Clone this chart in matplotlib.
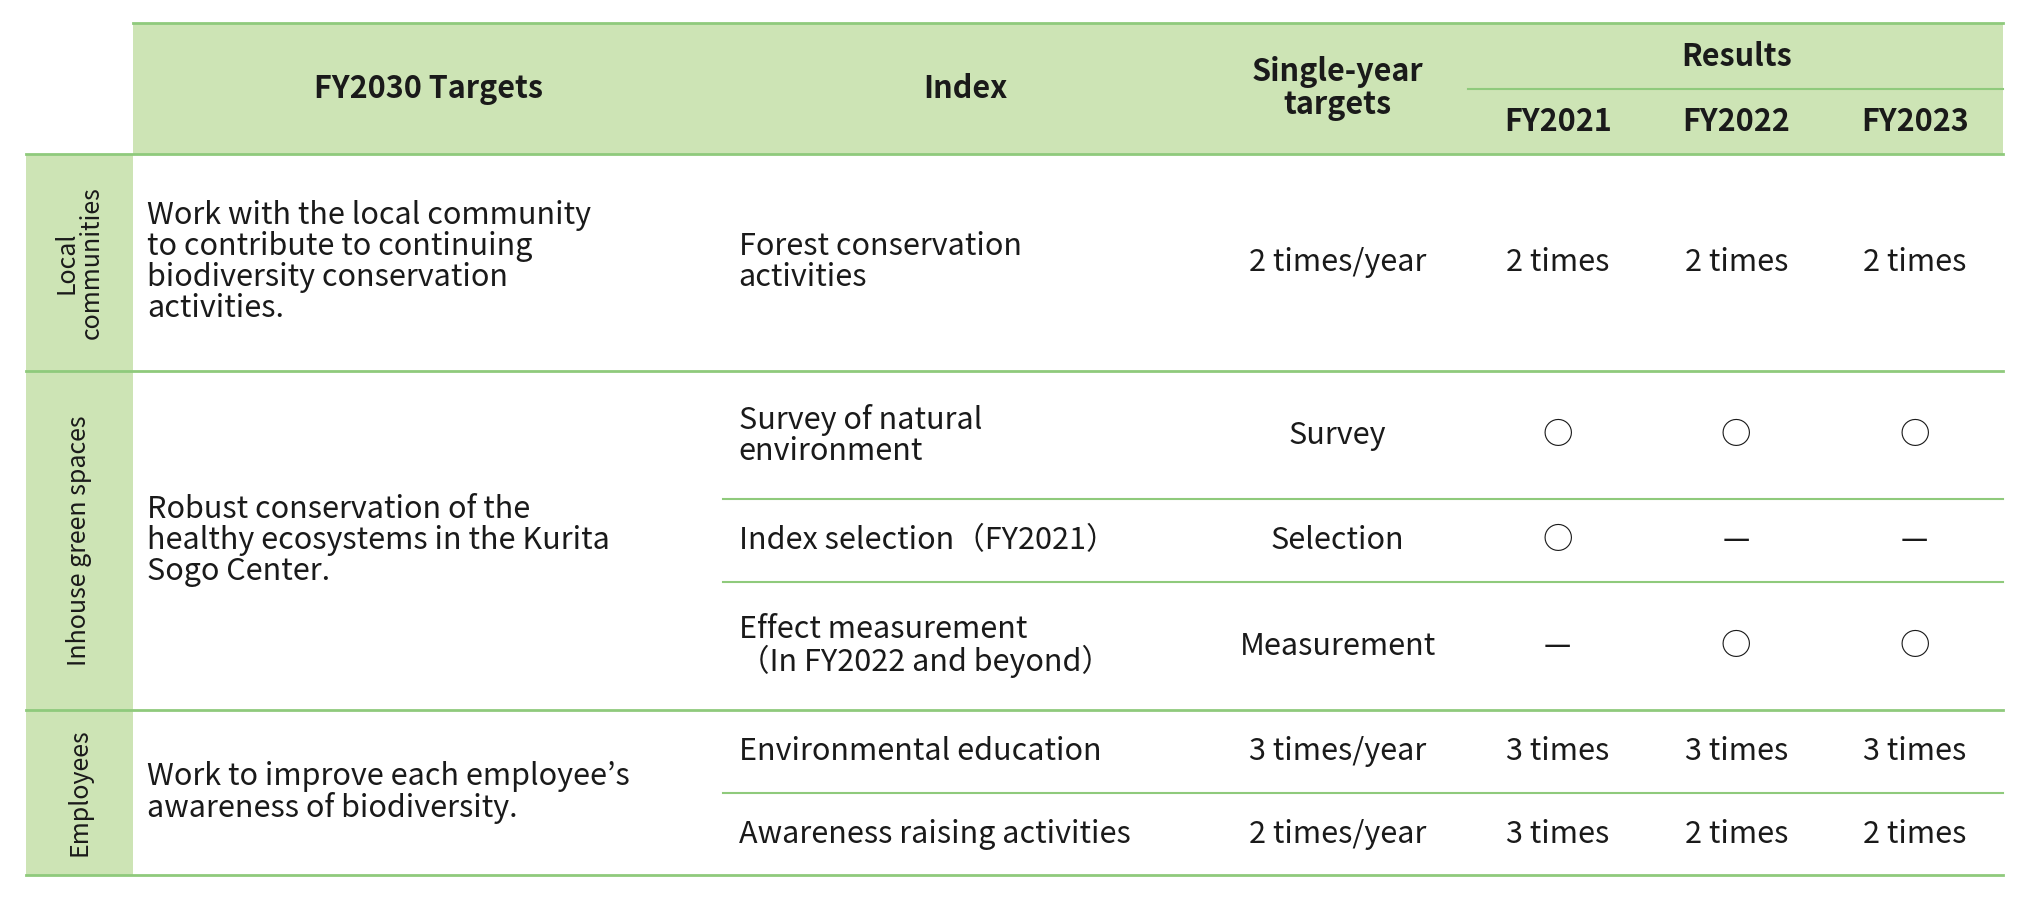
import matplotlib.pyplot as plt
from matplotlib.patches import Rectangle

plt.rcParams["font.family"] = ["Noto Sans CJK JP", "DejaVu Sans"]

# table content
groups = ["Local\ncommunities", "Inhouse green spaces", "Employees"]
targets = [
    "Work with the local community\nto contribute to continuing\nbiodiversity conservation\nactivities.",
    "Robust conservation of the\nhealthy ecosystems in the Kurita\nSogo Center.",
    "Work to improve each employee’s\nawareness of biodiversity.",
]
indexes = [
    "Forest conservation\nactivities",
    "Survey of natural\nenvironment",
    "Index selection（FY2021）",
    "Effect measurement\n（In FY2022 and beyond）",
    "Environmental education",
    "Awareness raising activities",
]
single_year = ["2 times/year", "Survey", "Selection", "Measurement", "3 times/year", "2 times/year"]
years = ["FY2021", "FY2022", "FY2023"]
results = [
    ["2 times", "2 times", "2 times"],
    ["○", "○", "○"],
    ["○", "—", "—"],
    ["—", "○", "○"],
    ["3 times", "3 times", "3 times"],
    ["3 times", "2 times", "2 times"],
]

# layout (in reference pixel units, 1557 x 691)
W, H = 1557, 691
group_bounds = [(118, 285), (285, 545), (545, 672)]
row_bounds = [(118, 285), (285, 383), (383, 447), (447, 545), (545, 609), (609, 672)]
year_x = [1196, 1333, 1470]

GREEN_FILL = "#cde4b5"
GREEN_LINE = "#8fca7c"
TXT = "#1a1a1a"
FS = 22

fig = plt.figure(figsize=(20.28, 9.0), dpi=100)
ax = fig.add_axes([0, 0, 1, 1])
ax.set_xlim(0, W)
ax.set_ylim(H, 0)
ax.axis("off")

# fills
ax.add_patch(Rectangle((102, 18), 1436, 100, color=GREEN_FILL, lw=0))
ax.add_patch(Rectangle((20, 118), 82, 554, color=GREEN_FILL, lw=0))

# lines
ax.plot([102, 1538], [18, 18], color=GREEN_LINE, lw=2)
ax.plot([1127, 1538], [68, 68], color=GREEN_LINE, lw=1.5)
for y in [118, 285, 545, 672]:
    ax.plot([20, 1538], [y, y], color=GREEN_LINE, lw=2)
for top, bot in row_bounds:
    if top not in (118, 285, 545):
        ax.plot([555, 1538], [top, top], color=GREEN_LINE, lw=1.5)

# header
hdr = dict(fontsize=FS, fontweight="bold", color=TXT, ha="center", va="center")
ax.text(329, 68, "FY2030 Targets", **hdr)
ax.text(741, 68, "Index", **hdr)
ax.text(1027, 68, "Single-year\ntargets", linespacing=1.05, **hdr)
ax.text(1333, 44, "Results", **hdr)
for x, yr in zip(year_x, years):
    ax.text(x, 94, yr, **hdr)

# group column and targets
for (top, bot), g, t in zip(group_bounds, groups, targets):
    ax.text(61, (top + bot) / 2, g, rotation=90, fontsize=18, color=TXT,
            ha="center", va="center", linespacing=0.95)
    ax.text(113, (top + bot) / 2, t, fontsize=FS, color=TXT,
            ha="left", va="center", linespacing=1.0)

# rows
for (top, bot), idx, sy, res in zip(row_bounds, indexes, single_year, results):
    yc = (top + bot) / 2
    ax.text(567, yc, idx, fontsize=FS, color=TXT, ha="left", va="center", linespacing=1.0)
    ax.text(1027, yc, sy, fontsize=FS, color=TXT, ha="center", va="center")
    for x, r in zip(year_x, res):
        ax.text(x, yc, r, fontsize=FS, color=TXT, ha="center", va="center")

fig.savefig("out.png", dpi=100, facecolor="white")
